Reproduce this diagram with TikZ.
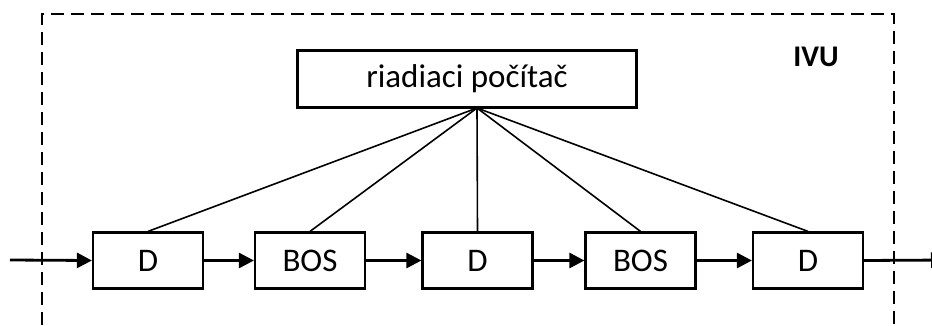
\documentclass[tikz,border=0pt]{standalone}
\usepackage{fontspec}
\setmainfont{Carlito}
\usetikzlibrary{arrows.meta}
\begin{document}
\begin{tikzpicture}[x=1pt,y=-1pt,
  blockbox/.style={draw,line width=2.2pt,minimum width=110pt,minimum height=56pt,
    inner sep=0pt,font=\fontsize{33}{39}\selectfont},
  flow/.style={line width=2.8pt,-{Triangle[length=15pt,width=15pt]}},
  ctrl/.style={line width=1.6pt},
  unitframe/.style={line width=2pt,dash pattern=on 13pt off 7pt}]
\clip (0,0) rectangle (932,325);

% dashed unit boundary, open towards the bottom
\draw[unitframe] (42,345) -- (42,14) -- (894,14) -- (894,345);
\node[font=\bfseries\fontsize{30}{36}\selectfont] (ivu) at (816,57) {IVU};

% control computer
\node[blockbox,minimum width=339pt,minimum height=57pt] (pc) at (467,79) {riadiaci počítač};
\coordinate (hub) at (477,108);

% signal chain
\node[blockbox] (d1) at (148,260.5) {D};
\node[blockbox] (b1) at (310,260.5) {BOS};
\node[blockbox] (d2) at (477.5,260.5) {D};
\node[blockbox] (b2) at (640.5,260.5) {BOS};
\node[blockbox] (d3) at (808,260.5) {D};

\coordinate (src) at (10,260);
\coordinate (sink) at (946,260);

\draw[flow] (src) -- (d1.west);
\draw[flow] (d1.east) -- (b1.west);
\draw[flow] (b1.east) -- (d2.west);
\draw[flow] (d2.east) -- (b2.west);
\draw[flow] (b2.east) -- (d3.west);
\draw[flow] (d3.east) -- (sink);

% control lines
\foreach \n in {d1,b1,d2,b2,d3}
  \draw[ctrl] (hub) -- (\n.north);
\end{tikzpicture}
\end{document}
